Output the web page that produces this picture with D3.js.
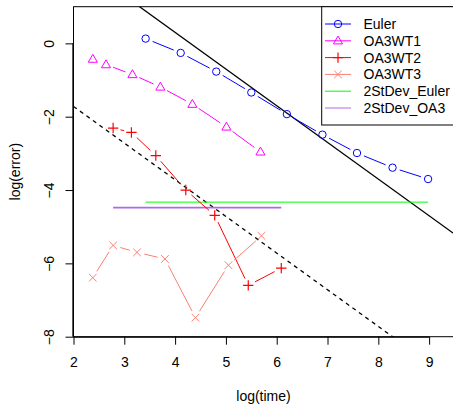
<!DOCTYPE html>
<html>
<head>
<meta charset="utf-8">
<script src="https://cdn.jsdelivr.net/npm/d3@7"></script>
<style>
  body { margin: 0; background: #fff; }
  svg { display: block; font-family: "Liberation Sans", Arial, sans-serif; }
</style>
</head>
<body>
<div class="chart"></div>
<script>
// values
const eulerX = [3.42, 4.11, 4.81, 5.50, 6.20, 6.90, 7.58, 8.28, 8.98]
const eulerY = [0.13, -0.26, -0.77, -1.34, -1.93, -2.49, -2.99, -3.39, -3.70]
const wt1X = [2.38, 2.64, 3.16, 3.71, 4.34, 5.01, 5.68]
const wt1Y = [-0.43, -0.58, -0.85, -1.19, -1.66, -2.28, -2.96]
const wt2X = [2.78, 3.14, 3.62, 4.21, 4.78, 5.44, 6.09]
const wt2Y = [-2.31, -2.43, -3.06, -4.00, -4.69, -6.60, -6.13]
const wt3X = [2.38, 2.78, 3.25, 3.80, 4.40, 5.05, 5.70]
const wt3Y = [-6.39, -5.51, -5.70, -5.88, -7.48, -6.05, -5.25]
const sdEuler = { x0: 3.42, x1: 8.98, y: -4.33 }
const sdOA3 = { x0: 2.78, x1: 6.09, y: -4.48 }
const refLines = [ { a: 4.3, b: -1, dash: null }, { a: 0.28, b: -1, dash: "4,4" } ]
const xTicks = [2, 3, 4, 5, 6, 7, 8, 9]
const yTicks = [-8, -6, -4, -2, 0]
const legendNames = ["Euler", "OA3WT1", "OA3WT2", "OA3WT3", "2StDev_Euler", "2StDev_OA3"]

const width = 453
const height = 404
const mLeft = 73.5, mRight = 453.5, mTop = 6.7, mBottom = 336.7
const purple = "#b068e6"

const x = d3.scaleLinear().domain([2, 9.48]).range([mLeft, mRight])
const y = d3.scaleLinear().domain([-8, 1]).range([mBottom, mTop])

const series = [
  { name: "Euler", X: eulerX, Y: eulerY, color: "#0000ff", pch: "circle" },
  { name: "OA3WT1", X: wt1X, Y: wt1Y, color: "#ff00ff", pch: "triangle" },
  { name: "OA3WT2", X: wt2X, Y: wt2Y, color: "#ff0000", pch: "plus" },
  { name: "OA3WT3", X: wt3X, Y: wt3Y, color: "#fa8072", pch: "cross" }
]

const svg = d3.select(".chart").append("svg")
  .attr("width", width).attr("height", height)

svg.append("defs").append("clipPath").attr("id", "plotclip")
  .append("rect").attr("x", mLeft).attr("y", mTop)
  .attr("width", mRight - mLeft).attr("height", mBottom - mTop)

// point symbols, drawn like R's pch
const drawSymbol = (g, pch, cx, cy, color) => {
  if (pch === "circle") {
    g.append("circle").attr("cx", cx).attr("cy", cy).attr("r", 3.7)
      .attr("fill", "none").attr("stroke", color).attr("stroke-width", 1)
  } else if (pch === "triangle") {
    const s = 4.8
    g.append("path")
      .attr("d", `M${cx},${cy - s}L${cx + s * 0.95},${cy + s * 0.65}L${cx - s * 0.95},${cy + s * 0.65}Z`)
      .attr("fill", "none").attr("stroke", color).attr("stroke-width", 1)
  } else if (pch === "plus") {
    const s = 5.2
    g.append("path").attr("d", `M${cx - s},${cy}H${cx + s}M${cx},${cy - s}V${cy + s}`)
      .attr("stroke", color).attr("stroke-width", 1.2)
  } else if (pch === "cross") {
    const s = 3.8
    g.append("path").attr("d", `M${cx - s},${cy - s}L${cx + s},${cy + s}M${cx - s},${cy + s}L${cx + s},${cy - s}`)
      .attr("stroke", color).attr("stroke-width", 1)
  }
}

const plot = svg.append("g").attr("clip-path", "url(#plotclip)")

// reference lines (abline)
refLines.forEach(l => {
  plot.append("line")
    .attr("x1", x(2)).attr("y1", y(l.a + l.b * 2))
    .attr("x2", x(9.48)).attr("y2", y(l.a + l.b * 9.48))
    .attr("stroke", "#000").attr("stroke-width", 1.3)
    .attr("stroke-dasharray", l.dash)
})

// 2 st.dev lines
plot.append("line")
  .attr("x1", x(sdEuler.x0)).attr("x2", x(sdEuler.x1))
  .attr("y1", y(sdEuler.y)).attr("y2", y(sdEuler.y))
  .attr("stroke", "#00ff00").attr("stroke-width", 1)
plot.append("line")
  .attr("x1", x(sdOA3.x0)).attr("x2", x(sdOA3.x1))
  .attr("y1", y(sdOA3.y)).attr("y2", y(sdOA3.y))
  .attr("stroke", purple).attr("stroke-width", 1.6)

// type = "b": segments with gaps round the points
const gap = 7.5
series.forEach(s => {
  const g = plot.append("g")
  const pts = s.X.map((v, i) => [x(v), y(s.Y[i])])
  for (let i = 0; i < pts.length - 1; i++) {
    const [x1, y1] = pts[i], [x2, y2] = pts[i + 1]
    const len = Math.hypot(x2 - x1, y2 - y1)
    if (len <= 2 * gap) continue
    const ux = (x2 - x1) / len, uy = (y2 - y1) / len
    g.append("line")
      .attr("x1", x1 + ux * gap).attr("y1", y1 + uy * gap)
      .attr("x2", x2 - ux * gap).attr("y2", y2 - uy * gap)
      .attr("stroke", s.color).attr("stroke-width", 1)
  }
  pts.forEach(p => drawSymbol(g, s.pch, p[0], p[1], s.color))
})

// box
svg.append("rect").attr("x", mLeft).attr("y", mTop)
  .attr("width", mRight - mLeft).attr("height", mBottom - mTop)
  .attr("fill", "none").attr("stroke", "#000").attr("stroke-width", 1)

// axes
const xAxis = d3.axisBottom(x).tickValues(xTicks).tickSize(8)
svg.append("g").attr("transform", `translate(0,${mBottom})`).call(xAxis)
  .call(g => g.select(".domain").attr("d", `M${x(2)},0.5H${x(9)}`).attr("stroke-width", 1.3))
  .call(g => g.selectAll(".tick text").attr("font-size", 14).attr("fill", "#000")
    .attr("font-family", "Liberation Sans, Arial, sans-serif")
    .attr("y", 30.5).attr("dy", null))

const yAxis = d3.axisLeft(y).tickValues(yTicks).tickSize(8)
  .tickFormat(d => d3.format("d")(d).replace("-", "\u2212"))
svg.append("g").attr("transform", `translate(${mLeft},0)`).call(yAxis)
  .call(g => g.select(".domain").attr("d", `M-0.5,${y(-8)}V${y(0)}`).attr("stroke-width", 1.3))
  .call(g => g.selectAll(".tick text")
    .attr("font-size", 14).attr("fill", "#000")
    .attr("font-family", "Liberation Sans, Arial, sans-serif")
    .attr("x", null).attr("dy", null)
    .attr("text-anchor", "middle")
    .attr("transform", "translate(-25,0) rotate(-90)")
    .attr("dominant-baseline", "central"))

svg.append("text")
  .attr("x", (mLeft + mRight) / 2).attr("y", 401)
  .attr("text-anchor", "middle").attr("font-size", 14)
  .text("log(time)")
svg.append("text")
  .attr("transform", `translate(20,${(mTop + mBottom) / 2}) rotate(-90)`)
  .attr("text-anchor", "middle").attr("font-size", 14)
  .text("log(error)")

// legend
const legend = svg.append("g")
legend.append("rect").attr("x", 321.7).attr("y", mTop)
  .attr("width", 140).attr("height", 125 - mTop)
  .attr("fill", "#fff").attr("stroke", "#000").attr("stroke-width", 1)

const legendItems = [
  ...series.map(s => ({ color: s.color, pch: s.pch })),
  { color: "#00ff00", pch: null },
  { color: purple, pch: null }
]
legendItems.forEach((it, i) => {
  const ly = 24 + i * 16.8
  legend.append("line").attr("x1", 325).attr("x2", 351)
    .attr("y1", ly).attr("y2", ly)
    .attr("stroke", it.color).attr("stroke-width", 1)
  if (it.pch) drawSymbol(legend, it.pch, 338, ly, it.color)
  legend.append("text").attr("x", 363.5).attr("y", ly)
    .attr("dominant-baseline", "central").attr("font-size", 14)
    .text(legendNames[i])
})
</script>
</body>
</html>
